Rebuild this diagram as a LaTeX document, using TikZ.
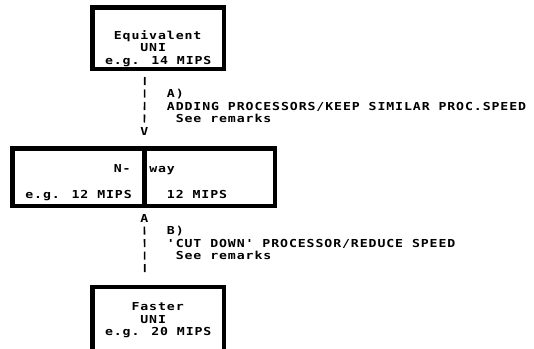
\documentclass[tikz,border=0pt]{standalone}
\usepackage{fontspec}
\usepackage{tikz}
\usetikzlibrary{positioning}
\newfontfamily\termfont{DejaVu Sans Mono}[FakeStretch=1.2, LetterSpace=8.2]
\newcommand\termsetup{\termfont\bfseries\fontsize{11}{12.5}\selectfont\setlength{\spaceskip}{8.85pt}}

\begin{document}
\begin{tikzpicture}[x=1pt, y=-1pt,
    txt/.style={anchor=base west, inner sep=0pt, outer sep=0pt, font=\termsetup},
    frame/.style={draw, line width=4.5pt, inner sep=0pt},
    bars/.style={line width=1.6pt, dash pattern=on 8pt off 4.5pt}]
  \useasboundingbox (0,0) rectangle (534,348);
  \clip (0,0) rectangle (534,348);
  % boxes
  \node[frame, minimum width=131.5pt, minimum height=61.5pt] (equni) at (158,38) {};
  \node[frame, minimum width=262.5pt, minimum height=57.5pt] (nway) at (143.5,177) {};
  \draw[frame] ([xshift=1.2pt]nway.north) -- ([xshift=1.2pt]nway.south);
  \node[frame, minimum width=131.5pt, minimum height=82.75pt] (fastuni) at (158,328.6) {};
  % box texts
  \node[txt] (equiv) at (113.85,39) {Equivalent};
  \node[txt] (uni1) at (140.4,51.5) {UNI};
  \node[txt] (mips14) at (105,64) {e.g. 14 MIPS};
  \node[txt] (nleft) at (113.85,172.5) {N-};
  \node[txt] (nright) at (149.25,172.5) {way};
  \node[txt] (mips12a) at (25.35,198) {e.g. 12 MIPS};
  \node[txt] (mips12b) at (166.95,198) {12 MIPS};
  \node[txt] (faster) at (131.55,310.5) {Faster};
  \node[txt] (uni2) at (140.4,323) {UNI};
  \node[txt] (mips20) at (105,335.5) {e.g. 20 MIPS};
  % path A
  \coordinate (atop) at (144.8,77);
  \node[txt] (vhead) at (140.4,135) {V};
  \draw[bars] (atop) -- (vhead.north);
  \node[txt] (alabel) at (166.95,97.5) {A)};
  \node[txt] (atext) at (166.95,110) {ADDING PROCESSORS/KEEP SIMILAR PROC.SPEED};
  \node[txt] (aremark) at (175.8,122.5) {See remarks};
  % path B
  \node[txt] (ahead) at (140.4,222) {A};
  \coordinate (bbot) at (144.8,272);
  \draw[bars] (bbot) -- (ahead.south);
  \node[txt] (blabel) at (166.95,234.5) {B)};
  \node[txt] (btext) at (166.95,247) {'CUT DOWN' PROCESSOR/REDUCE SPEED};
  \node[txt] (bremark) at (175.8,259.5) {See remarks};
\end{tikzpicture}
\end{document}
